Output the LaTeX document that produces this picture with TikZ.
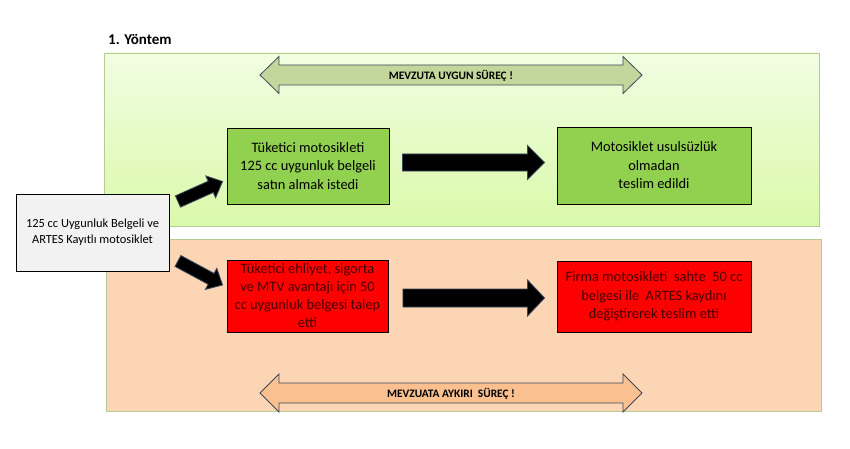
\documentclass[tikz,border=0pt]{standalone}
\usepackage{fontspec}
\setmainfont{Carlito}
\usetikzlibrary{calc}
\definecolor{greentop}{RGB}{241,253,226}
\definecolor{greenbot}{RGB}{218,249,170}
\definecolor{orangepanel}{RGB}{252,213,181}
\definecolor{panelborder}{RGB}{183,203,146}
\definecolor{boxgreen}{RGB}{146,208,80}
\definecolor{boxred}{RGB}{255,0,0}
\definecolor{boxgrey}{RGB}{242,242,242}
\definecolor{redtext}{RGB}{70,0,0}
\definecolor{olivearrow}{RGB}{195,214,155}
\definecolor{peacharrow}{RGB}{250,192,144}
\definecolor{arrowedge}{RGB}{58,74,92}
\newcommand\myboxfont{\fontsize{14.4}{18.5}\selectfont}
\newcommand\myredfont{\fontsize{14.4}{18}\selectfont}
\newcommand\mysmallfont{\fontsize{12.4}{16}\selectfont}
\newcommand\mylabelfont{\fontsize{11.4}{13}\selectfont\bfseries}
% block arrow: from, to, shaft half, head half, head length, style
\newcommand\myblockarrow[6]{%
  \coordinate (hbtmp) at ($(#2)!#5!(#1)$);
  \draw[#6] ($(#1)!#3!90:(#2)$) -- ($(hbtmp)!#3!90:(#2)$) -- ($(hbtmp)!#4!90:(#2)$)
    -- (#2) -- ($(hbtmp)!#4!-90:(#2)$) -- ($(hbtmp)!#3!-90:(#2)$) -- ($(#1)!#3!-90:(#2)$) -- cycle;
}
% double block arrow: left tip, right tip, shaft half, head half, head length, style
\newcommand\mydblarrow[6]{%
  \coordinate (hla) at ($(#1)!#5!(#2)$);
  \coordinate (hlb) at ($(#2)!#5!(#1)$);
  \draw[#6] (#1) -- ($(hla)!#4!90:(#2)$) -- ($(hla)!#3!90:(#2)$) -- ($(hlb)!#3!90:(#2)$)
    -- ($(hlb)!#4!90:(#2)$) -- (#2) -- ($(hlb)!#4!-90:(#2)$) -- ($(hlb)!#3!-90:(#2)$)
    -- ($(hla)!#3!-90:(#2)$) -- ($(hla)!#4!-90:(#2)$) -- cycle;
}
\begin{document}
\begin{tikzpicture}[x=1pt,y=-1pt,
  box/.style={draw=black, line width=0.9pt, align=center, inner sep=0pt, font=\myboxfont},
  panel/.style={draw=panelborder, line width=0.8pt},
  blk/.style={fill=black, draw=arrowedge, line width=0.8pt, line join=miter},
  dbl/.style={draw=arrowedge, line width=0.8pt, line join=miter},
  lbl/.style={inner sep=0pt, font=\mylabelfont, text=black}]
\useasboundingbox (0,0) rectangle (850,449);
\fill[white] (0,0) rectangle (850,449);

% title
\node[anchor=west, inner sep=0pt, font=\fontsize{15}{17}\selectfont\bfseries] (title) at (108,39) {1. Yöntem};

% panels
\path[panel, top color=greentop, bottom color=greenbot] (104,53) rectangle (819,226);
\path[panel, fill=orangepanel] (106,239) rectangle (821,411);

% process arrows (double)
\coordinate (t1l) at (260,75);
\coordinate (t1r) at (642,75);
\mydblarrow{t1l}{t1r}{10pt}{18.5pt}{19pt}{dbl, fill=olivearrow}
\node[lbl] (mvz1) at (451,75.5) {MEVZUTA UYGUN SÜREÇ !};

\coordinate (t2l) at (260,393);
\coordinate (t2r) at (642,393);
\mydblarrow{t2l}{t2r}{10pt}{19pt}{19pt}{dbl, fill=peacharrow}
\node[lbl] (mvz2) at (451,394) {MEVZUATA AYKIRI\ \ SÜREÇ !};

% boxes
\node[box, fill=boxgrey, minimum width=153, minimum height=77, font=\mysmallfont] (start) at (92.5,232.5)
  {125 cc Uygunluk Belgeli ve\\ARTES Kayıtlı motosiklet};
\node[box, fill=boxgreen, minimum width=162, minimum height=76] (g1) at (308,166)
  {Tüketici motosikleti\\125 cc uygunluk belgeli\\satın almak istedi};
\node[box, fill=boxgreen, minimum width=194, minimum height=77] (g2) at (654,165.5)
  {Motosiklet usulsüzlük\\olmadan\\teslim edildi};
\node[box, fill=boxred, text=redtext, minimum width=161, minimum height=72, font=\myredfont] (r1) at (307.5,296)
  {Tüketici ehliyet, sigorta\\ve MTV avantajı için 50\\cc uygunluk belgesi talep\\etti};
\node[box, fill=boxred, text=redtext, minimum width=194, minimum height=71] (r2) at (654,296.5)
  {Firma motosikleti\ \ sahte\ \ 50 cc\\belgesi ile\ \ ARTES kaydını\\değiştirerek teslim etti};

% connectors
\coordinate (u1) at ($(start.east)+(8.5,-31)$);
\coordinate (u2) at ($(g1.west)+(-4,15.5)$);
\myblockarrow{u1}{u2}{6.2pt}{12pt}{13pt}{blk}
\coordinate (d1) at ($(start.east)+(8.5,28.5)$);
\coordinate (d2) at ($(r1.west)+(-4,-11)$);
\myblockarrow{d1}{d2}{6.2pt}{12pt}{13pt}{blk}

\coordinate (h1a) at ($(g1.east)+(13,-3.5)$);
\coordinate (h1b) at ($(g2.west)+(-12,-3)$);
\myblockarrow{h1a}{h1b}{8.5pt}{17pt}{17pt}{blk}
\coordinate (h2a) at ($(r1.east)+(14.5,2)$);
\coordinate (h2b) at ($(r2.west)+(-12,1.5)$);
\myblockarrow{h2a}{h2b}{9pt}{18pt}{17pt}{blk}
\end{tikzpicture}
\end{document}
